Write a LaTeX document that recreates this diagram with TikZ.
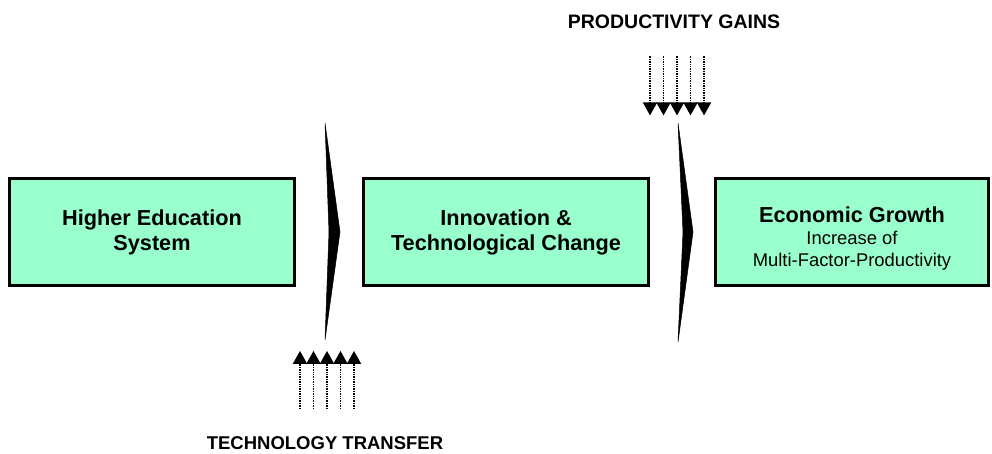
\documentclass[tikz,border=0pt]{standalone}
\usepackage{fontspec}
\setmainfont{Liberation Sans}
\usepackage{tikz}
\usetikzlibrary{arrows.meta}

\definecolor{mint}{HTML}{99FFCC}

\begin{document}
\begin{tikzpicture}[x=1pt, y=1pt,
        stage/.style={draw=black, line width=3pt, fill=mint, align=center, inner sep=0pt,
            minimum height=107pt, font=\fontsize{21.7}{25}\selectfont\bfseries},
        chevron/.style={fill=black, draw=black, line width=0.5pt, line join=miter},
        push/.style={line width=1.8pt, dash pattern=on 1.4pt off 1pt,
            -{Triangle[width=14pt, length=13pt]}},
        caption/.style={font=\fontsize{18.5}{22}\selectfont\bfseries}]
            \useasboundingbox (0,0) rectangle (992,453);

            \node[stage, minimum width=285pt] (hes) at (152,221) {Higher Education\\System};
            \node[stage, minimum width=285pt] (itc) at (506,221) {Innovation \&\\Technological Change};
            \node[stage, minimum width=273pt, font=\fontsize{18.4}{22}\selectfont] (eg) at (852,221)
                {\rule{0pt}{29pt}{\fontsize{21.7}{22}\selectfont\bfseries Economic Growth}\\Increase of\\Multi-Factor-Productivity};

            \coordinate (c1) at (329,221);
            \coordinate (c2) at (683,221);
            \fill[chevron] (c1) ++(-4,109) -- ++(15,-109) -- ++(-15,-108) -- ++(4,108) -- cycle;
            \fill[chevron] (c2) ++(-5,109) -- ++(15,-109) -- ++(-15,-110) -- ++(5,110) -- cycle;

            \node[caption] (tt) at (325,10) {TECHNOLOGY TRANSFER};
            \node[caption, font=\fontsize{19.5}{22}\selectfont\bfseries] (pg) at (674,431) {PRODUCTIVITY GAINS};

            \foreach \dx in {-27,-13.5,0,13.5,27} {
                \draw[push] ([xshift=\dx pt]tt.north) ++(2,24) -- ++(0,58);
                \draw[push] ([xshift=\dx pt]pg.south) ++(3,-24) -- ++(0,-59);
            }
        \end{tikzpicture}
\end{document}
